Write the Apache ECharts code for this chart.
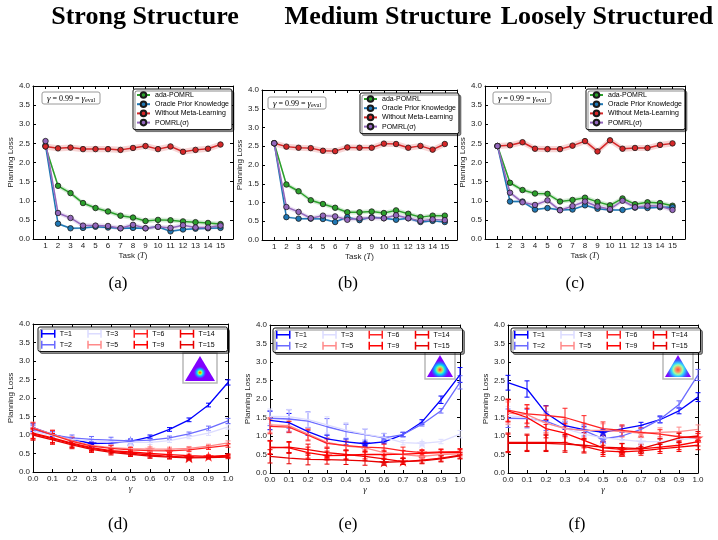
<!DOCTYPE html>
<html><head><meta charset="utf-8">
<script src="https://cdn.jsdelivr.net/npm/echarts/dist/echarts.min.js"></script>
<style>html,body{margin:0;padding:0;background:#fff}#c{width:718px;height:540px}</style>
</head><body><div id="c"></div>
<script>
// ---------------- DATA ----------------
const tasks = [1,2,3,4,5,6,7,8,9,10,11,12,13,14,15];
const methods = ['ada-POMRL','Oracle Prior Knowledge','Without Meta-Learning','POMRL(σ)'];
// (a) strong structure
const aAda    = [2.42,1.39,1.20,0.94,0.81,0.72,0.61,0.56,0.47,0.50,0.49,0.46,0.44,0.42,0.39];
const aOracle = [2.45,0.40,0.28,0.29,0.32,0.30,0.28,0.29,0.28,0.32,0.20,0.25,0.27,0.28,0.29];
const aNoMeta = [2.42,2.37,2.39,2.35,2.35,2.35,2.33,2.38,2.43,2.35,2.42,2.28,2.33,2.36,2.47];
const aPomrl  = [2.56,0.68,0.55,0.35,0.35,0.34,0.28,0.37,0.28,0.32,0.29,0.36,0.30,0.30,0.35];
// (b) medium structure
const bAda    = [2.58,1.48,1.30,1.06,0.96,0.86,0.74,0.74,0.76,0.72,0.79,0.70,0.61,0.65,0.65];
const bOracle = [2.58,0.61,0.57,0.57,0.56,0.48,0.61,0.53,0.61,0.58,0.54,0.58,0.48,0.51,0.48];
const bNoMeta = [2.58,2.49,2.46,2.45,2.38,2.37,2.47,2.46,2.46,2.57,2.56,2.46,2.51,2.41,2.56];
const bPomrl  = [2.58,0.88,0.75,0.58,0.65,0.63,0.54,0.58,0.59,0.58,0.66,0.58,0.51,0.55,0.53];
// (c) loosely structured
const cAda    = [2.43,1.47,1.28,1.19,1.18,0.98,1.02,1.08,0.97,0.88,1.06,0.91,0.96,0.94,0.87];
const cOracle = [2.43,0.98,0.98,0.77,0.81,0.76,0.77,0.88,0.79,0.76,0.76,0.82,0.81,0.83,0.83];
const cNoMeta = [2.43,2.45,2.53,2.36,2.35,2.35,2.44,2.56,2.29,2.58,2.36,2.38,2.38,2.46,2.50];
const cPomrl  = [2.43,1.21,0.96,0.89,1.01,0.75,0.86,0.98,0.85,0.78,1.00,0.83,0.87,0.86,0.76];
// half-width of the shaded band for each method (estimated)
const bandHalf = [0.06, 0.03, 0.08, 0.06];

const gammas = [0.0,0.1,0.2,0.3,0.4,0.5,0.6,0.7,0.8,0.9,1.0];
const tNames = ['T=1','T=2','T=3','T=5','T=6','T=9','T=14','T=15'];
// (d)
const dT1  = [1.20,1.02,0.88,0.77,0.78,0.83,0.95,1.15,1.41,1.81,2.42];
const dT2  = [1.15,1.00,0.92,0.88,0.86,0.84,0.86,0.92,1.03,1.18,1.38];
const dT3  = [1.10,0.98,0.88,0.84,0.82,0.80,0.80,0.85,0.95,1.05,1.22];
const dT5  = [1.20,1.02,0.85,0.72,0.66,0.63,0.62,0.62,0.64,0.70,0.79];
const dT6  = [1.18,1.00,0.83,0.70,0.64,0.60,0.58,0.57,0.60,0.66,0.72];
const dT9  = [1.05,0.92,0.78,0.66,0.58,0.54,0.50,0.47,0.44,0.42,0.45];
const dT14 = [1.03,0.90,0.76,0.64,0.56,0.51,0.46,0.42,0.40,0.41,0.43];
const dT15 = [1.00,0.87,0.73,0.61,0.53,0.48,0.43,0.40,0.38,0.39,0.40];
const dE1  = [0.10,0.06,0.05,0.05,0.05,0.05,0.05,0.05,0.05,0.05,0.07];
const dE2  = [0.10,0.08,0.08,0.08,0.08,0.06,0.06,0.05,0.05,0.06,0.07];
const dE3  = [0.10,0.08,0.08,0.07,0.07,0.06,0.06,0.05,0.05,0.06,0.06];
const dE5  = [0.15,0.12,0.10,0.08,0.07,0.06,0.06,0.05,0.05,0.05,0.05];
const dE6  = [0.15,0.12,0.10,0.08,0.07,0.06,0.06,0.05,0.05,0.05,0.05];
const dE9  = [0.14,0.12,0.10,0.08,0.07,0.06,0.06,0.05,0.04,0.04,0.04];
const dE14 = [0.14,0.12,0.10,0.08,0.07,0.06,0.06,0.05,0.04,0.04,0.04];
const dE15 = [0.14,0.12,0.10,0.08,0.07,0.06,0.06,0.05,0.04,0.04,0.04];
// (e)
const eT1  = [1.42,1.36,1.12,0.92,0.84,0.79,0.84,1.04,1.38,1.98,2.65];
const eT2  = [1.48,1.46,1.40,1.25,1.12,1.04,0.95,1.04,1.32,1.68,2.45];
const eT3  = [1.53,1.52,1.44,1.30,1.16,1.05,0.96,0.82,0.80,0.85,1.05];
const eT5  = [1.30,1.28,1.05,0.83,0.73,0.68,0.55,0.50,0.45,0.50,0.52];
const eT6  = [1.26,1.24,1.02,0.80,0.74,0.70,0.68,0.60,0.55,0.57,0.58];
const eT9  = [0.70,0.68,0.55,0.47,0.48,0.50,0.50,0.51,0.53,0.55,0.56];
const eT14 = [0.68,0.70,0.63,0.55,0.50,0.45,0.38,0.31,0.35,0.40,0.48];
const eT15 = [0.45,0.40,0.37,0.36,0.35,0.33,0.29,0.31,0.33,0.38,0.46];
const eE1  = [0.25,0.25,0.10,0.10,0.08,0.05,0.05,0.06,0.06,0.10,0.20];
const eE2  = [0.20,0.25,0.25,0.22,0.20,0.15,0.12,0.06,0.05,0.06,0.18];
const eE3  = [0.20,0.20,0.20,0.22,0.20,0.15,0.10,0.06,0.05,0.06,0.10];
const eE5  = [0.20,0.15,0.15,0.12,0.12,0.12,0.10,0.10,0.08,0.08,0.08];
const eE6  = [0.20,0.15,0.15,0.12,0.12,0.12,0.10,0.10,0.08,0.08,0.08];
const eE9  = [0.18,0.15,0.15,0.12,0.12,0.12,0.10,0.10,0.08,0.08,0.08];
const eE14 = [0.18,0.15,0.15,0.12,0.12,0.12,0.10,0.08,0.08,0.08,0.08];
const eE15 = [0.18,0.15,0.15,0.12,0.12,0.12,0.08,0.08,0.08,0.08,0.08];
// (f)
const fT1  = [2.44,2.27,1.62,1.28,1.17,1.10,1.19,1.29,1.44,1.68,2.05];
const fT2  = [1.48,1.47,1.40,1.20,1.15,0.92,1.00,1.18,1.45,1.85,2.65];
const fT3  = [1.55,1.50,1.35,1.20,1.05,0.95,0.90,0.85,0.85,0.90,0.95];
const fT5  = [1.62,1.58,1.35,1.20,1.15,1.15,1.12,1.08,1.10,1.12,1.18];
const fT6  = [1.70,1.60,1.56,1.50,1.35,1.20,1.15,1.10,1.05,0.98,0.95];
const fT9  = [1.68,1.50,1.20,1.08,0.88,0.68,0.64,0.65,0.70,0.75,0.85];
const fT14 = [0.83,0.83,0.83,0.82,0.72,0.60,0.57,0.60,0.65,0.70,0.75];
const fT15 = [0.80,0.80,0.80,0.78,0.75,0.70,0.68,0.66,0.80,0.95,1.00];
const fE1  = [0.20,0.22,0.20,0.10,0.08,0.08,0.08,0.08,0.08,0.08,0.12];
const fE2  = [0.25,0.25,0.25,0.20,0.15,0.10,0.10,0.10,0.10,0.10,0.15];
const fE3  = [0.25,0.25,0.25,0.20,0.15,0.10,0.10,0.10,0.10,0.10,0.12];
const fE5  = [0.30,0.25,0.25,0.25,0.20,0.18,0.15,0.12,0.12,0.12,0.12];
const fE6  = [0.30,0.25,0.25,0.25,0.20,0.18,0.15,0.12,0.12,0.12,0.12];
const fE9  = [0.30,0.25,0.25,0.25,0.20,0.18,0.15,0.12,0.12,0.12,0.12];
const fE14 = [0.25,0.22,0.22,0.22,0.18,0.15,0.12,0.12,0.12,0.12,0.12];
const fE15 = [0.25,0.22,0.22,0.22,0.18,0.15,0.12,0.12,0.12,0.12,0.12];

// ---------------- STYLE / LAYOUT ----------------
const TOPC = ['#2ca02c','#1f77b4','#d62728','#9467bd'];
const BOTC = ['#0000ff','#6b6bff','#dcdcff','#ff8a8a','#ff2222','#ff0000','#f20000','#e60000'];
const STAR = 'path://M100,0L122.5,69.1L195.1,69.1L136.3,111.8L158.8,180.9L100,138.2L41.2,180.9L63.7,111.8L4.9,69.1L77.5,69.1Z';
const grids = [
  {left:33, top:86, width:200, height:153},
  {left:262, top:90, width:195, height:150},
  {left:485, top:86, width:200, height:153},
  {left:33, top:324, width:195, height:148},
  {left:270, top:325, width:190, height:148},
  {left:508, top:325, width:190, height:148}
];
const LBL = {fontFamily:'Liberation Sans', fontSize:8, color:'#222'};
const AX = {color:'#000', width:1};
const xAxes = [], yAxes = [];
grids.forEach((g, gi) => {
  const isTop = gi < 3;
  const xb = isTop ? {min:0, max:16, interval:1} : {min:0, max:1, interval:0.1};
  xAxes.push(Object.assign({type:'value', gridIndex:gi, position:'bottom',
    axisLine:{show:true, onZero:false, lineStyle:AX},
    axisTick:{show:true, inside:true, length:3, lineStyle:AX},
    splitLine:{show:false},
    axisLabel:Object.assign({}, LBL, {margin:3, showMinLabel:true, showMaxLabel:true,
      formatter: isTop ? (v => (v >= 1 && v <= 15) ? String(v) : '') : (v => v.toFixed(1))}),
    name: isTop ? 'Task ({i|T})' : '{i|γ}', nameLocation:'middle', nameGap: 11,
    nameTextStyle:Object.assign({}, LBL, {rich:{i:{fontFamily:'Liberation Serif', fontStyle:'italic', fontSize:9, color:'#222'}}})
  }, xb));
  xAxes.push(Object.assign({type:'value', gridIndex:gi, position:'top',
    axisLine:{show:true, onZero:false, lineStyle:AX},
    axisTick:{show:true, inside:true, length:3, lineStyle:AX},
    splitLine:{show:false}, axisLabel:{show:false}}, xb));
  yAxes.push({type:'value', gridIndex:gi, position:'left', min:0, max:4, interval:0.5,
    axisLine:{show:true, onZero:false, lineStyle:AX},
    axisTick:{show:true, inside:true, length:3, lineStyle:AX},
    splitLine:{show:false},
    axisLabel:Object.assign({}, LBL, {margin:3, formatter: v => v.toFixed(1)}),
    name:'Planning Loss', nameLocation:'middle', nameGap:13, nameTextStyle:Object.assign({}, LBL)});
  yAxes.push({type:'value', gridIndex:gi, position:'right', min:0, max:4, interval:0.5,
    axisLine:{show:true, onZero:false, lineStyle:AX},
    axisTick:{show:true, inside:true, length:3, lineStyle:AX},
    splitLine:{show:false}, axisLabel:{show:false}});
});

const series = [];
function bandSeries(ax, xs, ys, half, color) {
  return {type:'custom', xAxisIndex:ax, yAxisIndex:ax, silent:true,
    data:[[xs[0], ys[0]]], encode:{x:0, y:1},
    renderItem:(params, api) => {
      const up = xs.map((x, i) => api.coord([x, ys[i] + half]));
      const lo = xs.map((x, i) => api.coord([x, ys[i] - half])).reverse();
      return {type:'polygon', shape:{points:up.concat(lo)}, style:{fill:color, opacity:0.2}};
    }};
}
const topSets = [[aAda,aOracle,aNoMeta,aPomrl],[bAda,bOracle,bNoMeta,bPomrl],[cAda,cOracle,cNoMeta,cPomrl]];
topSets.forEach((set, p) => {
  const ax = 2 * p;
  set.forEach((ys, m) => series.push(bandSeries(ax, tasks, ys, bandHalf[m], TOPC[m])));
  set.forEach((ys, m) => series.push({
    type:'line', name:methods[m], xAxisIndex:ax, yAxisIndex:ax, silent:true,
    data:tasks.map((t, i) => [t, ys[i]]),
    symbol:'circle', symbolSize:5.5, showSymbol:true,
    lineStyle:{color:TOPC[m], width:1.5},
    itemStyle:{color:TOPC[m], borderColor:'#1a1a1a', borderWidth:0.8}
  }));
});

function errRender(c) {
  return (params, api) => {
    const x = api.value(0), y = api.value(1), e = api.value(2);
    const t = api.coord([x, y + e]), b = api.coord([x, y - e]);
    const w = 2.5, st = {stroke:c, lineWidth:1};
    return {type:'group', children:[
      {type:'line', shape:{x1:t[0], y1:t[1], x2:b[0], y2:b[1]}, style:st},
      {type:'line', shape:{x1:t[0]-w, y1:t[1], x2:t[0]+w, y2:t[1]}, style:st},
      {type:'line', shape:{x1:b[0]-w, y1:b[1], x2:b[0]+w, y2:b[1]}, style:st}
    ]};
  };
}
const botSets = [[dT1,dT2,dT3,dT5,dT6,dT9,dT14,dT15],[eT1,eT2,eT3,eT5,eT6,eT9,eT14,eT15],[fT1,fT2,fT3,fT5,fT6,fT9,fT14,fT15]];
const botErrs = [[dE1,dE2,dE3,dE5,dE6,dE9,dE14,dE15],[eE1,eE2,eE3,eE5,eE6,eE9,eE14,eE15],[fE1,fE2,fE3,fE5,fE6,fE9,fE14,fE15]];
botSets.forEach((set, p) => {
  const ax = 2 * (p + 3);
  set.forEach((ys, k) => {
    const c = BOTC[k], errs = botErrs[p][k];
    series.push({type:'line', name:tNames[k], xAxisIndex:ax, yAxisIndex:ax, silent:true,
      data:gammas.map((g, i) => [g, ys[i]]), symbol:'none',
      lineStyle:{color:c, width:1.3}, itemStyle:{color:c}});
    series.push({type:'custom', xAxisIndex:ax, yAxisIndex:ax, silent:true,
      data:gammas.map((g, i) => [g, ys[i], errs[i]]), encode:{x:0, y:1}, renderItem:errRender(c)});
    const mi = ys.indexOf(Math.min.apply(null, ys));
    series.push({type:'scatter', xAxisIndex:ax, yAxisIndex:ax, silent:true,
      data:[[gammas[mi], ys[mi]]], symbol:STAR, symbolSize:11, symbolKeepAspect:true,
      itemStyle:{color:c}});
  });
});

const legendBase = {orient:'vertical', selectedMode:false, backgroundColor:'#fff',
  borderColor:'#111', borderWidth:1, borderRadius:2,
  shadowColor:'rgba(0,0,0,0.45)', shadowOffsetX:2, shadowOffsetY:2, shadowBlur:0};
const topLegPos = [[133, 89], [360, 93], [586, 89]];
const botLegPos = [[38, 327], [273, 328], [511, 328]];
const legends = [];
topLegPos.forEach(([l, t]) => legends.push(Object.assign({}, legendBase, {
  left:l, top:t, padding:[2,3,3,3], itemWidth:13, itemHeight:7, itemGap:1.2,
  textStyle:{fontFamily:'Liberation Sans', fontSize:7, color:'#000', lineHeight:8},
  data:methods.slice()
})));
botLegPos.forEach(([l, t]) => legends.push(Object.assign({}, legendBase, {
  left:l, top:t, width:190, height:24, padding:[2,3,2,3], itemWidth:13, itemHeight:8, itemGap:1.5,
  textStyle:{fontFamily:'Liberation Sans', fontSize:7, color:'#000', lineHeight:8, width:26},
  data:tNames.map((n, k) => ({name:n, icon:'path://M0,0V8M0,4H13M13,0V8',
    itemStyle:{color:'rgba(0,0,0,0)', borderColor:BOTC[k], borderWidth:1.5}}))
})));

function txt(x, y, s, font) {
  return {type:'text', x:x, y:y, silent:true,
    style:{text:s, font:font, fill:'#000', textAlign:'center', textVerticalAlign:'middle', align:'center', verticalAlign:'middle'}};
}
function gammaBox(x, y) {
  return {type:'group', x:x, y:y, silent:true, children:[
    {type:'rect', shape:{x:0, y:0, width:58, height:12, r:2}, style:{fill:'#fff', stroke:'#9a9a9a', lineWidth:1}},
    {type:'text', x:29, y:6.5, style:{text:'{i|γ} = 0.99 = {i|γ}{s|eval}', font:'8px "Liberation Serif"', fill:'#000',
      textAlign:'center', textVerticalAlign:'middle', align:'center', verticalAlign:'middle',
      rich:{i:{fontFamily:'Liberation Serif', fontStyle:'italic', fontSize:9}, s:{fontFamily:'Liberation Serif', fontSize:6, padding:[4,0,0,0]}}}}
  ]};
}
function inset(bx, by, bw, bh, stops) {
  const cx = bw / 2;
  return {type:'group', x:bx, y:by, silent:true, children:[
    {type:'rect', shape:{x:0, y:0, width:bw, height:bh}, style:{fill:'#fff', stroke:'#b8b8b8', lineWidth:1.5}},
    {type:'polygon', shape:{points:[[cx, 3], [2, bh-2], [bw-2, bh-2]]},
      style:{fill:new echarts.graphic.RadialGradient(0.5, 0.667, 0.75, stops)}}
  ]};
}
const graphics = [
  txt(145, 17, 'Strong Structure', 'bold 26px "Liberation Serif"'),
  txt(388, 17, 'Medium Structure', 'bold 26px "Liberation Serif"'),
  txt(607, 17, 'Loosely Structured', 'bold 26px "Liberation Serif"'),
  txt(118, 284, '(a)', '17px "Liberation Serif"'),
  txt(348, 284, '(b)', '17px "Liberation Serif"'),
  txt(575, 284, '(c)', '17px "Liberation Serif"'),
  txt(118, 525, '(d)', '17px "Liberation Serif"'),
  txt(348, 525, '(e)', '17px "Liberation Serif"'),
  txt(577, 525, '(f)', '17px "Liberation Serif"'),
  gammaBox(42, 92), gammaBox(268, 97), gammaBox(493, 92),
  inset(183, 353, 34, 30, [{offset:0,color:'#ff2000'},{offset:0.05,color:'#ffb000'},{offset:0.1,color:'#a0ff60'},{offset:0.16,color:'#00e0ff'},{offset:0.24,color:'#4060ff'},{offset:0.32,color:'#8000ff'},{offset:1,color:'#8000ff'}]),
  inset(425, 352, 30, 27, [{offset:0,color:'#ff3030'},{offset:0.1,color:'#ffa040'},{offset:0.2,color:'#80ff90'},{offset:0.3,color:'#00d0ff'},{offset:0.42,color:'#3060ff'},{offset:0.55,color:'#8000ff'},{offset:1,color:'#8000ff'}]),
  inset(663, 352, 30, 27, [{offset:0,color:'#ff4a3a'},{offset:0.14,color:'#ff9060'},{offset:0.28,color:'#a0ffa0'},{offset:0.4,color:'#30d0ff'},{offset:0.55,color:'#4060ff'},{offset:0.72,color:'#8000ff'},{offset:1,color:'#8000ff'}])
];

const chart = echarts.init(document.getElementById('c'), null, {renderer:'canvas'});
chart.setOption({
  animation:false, backgroundColor:'#fff',
  grid:grids, xAxis:xAxes, yAxis:yAxes, legend:legends, series:series, graphic:graphics
});
</script></body></html>
